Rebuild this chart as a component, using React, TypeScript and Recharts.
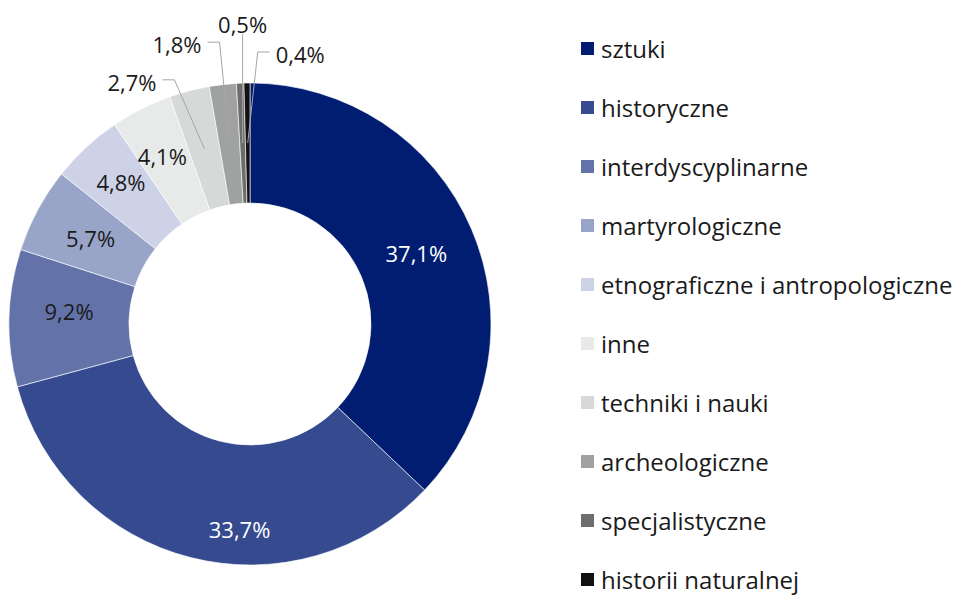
import React from 'react';
import { PieChart, Pie, Cell, Legend } from 'recharts';

const categories = [
  'sztuki',
  'historyczne',
  'interdyscyplinarne',
  'martyrologiczne',
  'etnograficzne i antropologiczne',
  'inne',
  'techniki i nauki',
  'archeologiczne',
  'specjalistyczne',
  'historii naturalnej',
];

const shares = [37.1, 33.7, 9.2, 5.7, 4.8, 4.1, 2.7, 1.8, 0.5, 0.4];

const colors = [
  '#001d72',
  '#354a8f',
  '#6373a9',
  '#99a5c8',
  '#cdd2e6',
  '#e8eaea',
  '#d7d9d9',
  '#a0a1a1',
  '#6d6d6d',
  '#111111',
];

const data = categories.map((name, i) => ({ name, value: shares[i] }));

const FONT = '"Open Sans", "Noto Sans", sans-serif';
const RAD = Math.PI / 180;

// small slices get their labels outside, with a leader line
const outsideLabels: Record<string, { dx: number; dy: number; side: 'left' | 'right' | 'up' }> = {
  'techniki i nauki': { dx: -30, dy: -69, side: 'left' },
  archeologiczne: { dx: -10, dy: -102, side: 'left' },
  specjalistyczne: { dx: 0, dy: -109, side: 'up' },
  'historii naturalnej': { dx: 10, dy: -91, side: 'right' },
};

const labelNudge: Record<string, [number, number]> = {
  historyczne: [34, 30],
  'etnograficzne i antropologiczne': [-6, -9],
  inne: [-6, -6],
  interdyscyplinarne: [0, -8],
};

const fmt = (v: number) => `${v.toFixed(1).replace('.', ',')}%`;

const renderLabel = (props: any) => {
  const { cx, cy, midAngle, innerRadius, outerRadius, name, value, index } = props;
  const r = (innerRadius + outerRadius) / 2;
  const ax = cx + r * Math.cos(-midAngle * RAD);
  const ay = cy + r * Math.sin(-midAngle * RAD);
  const out = outsideLabels[name];

  if (out) {
    const ex = ax + out.dx;
    const ey = ay + out.dy;
    if (out.side === 'up') {
      return (
        <g key={`lbl-${index}`}>
          <polyline points={`${ax},${ay} ${ex},${ey}`} stroke="#a6a6a6" strokeWidth={1} fill="none" />
          <text x={ex} y={ey - 10} textAnchor="middle" dominantBaseline="central" fill="#1a1a1a" fontSize={22} fontFamily={FONT}>
            {fmt(value)}
          </text>
        </g>
      );
    }
    const dir = out.side === 'left' ? -1 : 1;
    const hx = ex + dir * 12;
    return (
      <g key={`lbl-${index}`}>
        <polyline points={`${ax},${ay} ${ex},${ey} ${hx},${ey}`} stroke="#a6a6a6" strokeWidth={1} fill="none" />
        <text x={hx + dir * 6} y={ey + 2} textAnchor={dir < 0 ? 'end' : 'start'} dominantBaseline="central" fill="#1a1a1a" fontSize={22} fontFamily={FONT}>
          {fmt(value)}
        </text>
      </g>
    );
  }

  const [nx, ny] = labelNudge[name] || [0, 0];
  return (
    <text
      key={`lbl-${index}`}
      x={ax + nx}
      y={ay + ny}
      textAnchor="middle"
      dominantBaseline="central"
      fill={index < 2 ? '#ffffff' : '#1a1a1a'}
      fontSize={22}
      fontFamily={FONT}
    >
      {fmt(value)}
    </text>
  );
};

const renderLegend = () => (
  <div style={{ fontFamily: FONT, fontSize: 24, color: '#1a1a1a' }}>
    {categories.map((name, i) => (
      <div key={name} style={{ height: 59, display: 'flex', alignItems: 'center' }}>
        <span style={{ width: 13, height: 13, background: colors[i], marginRight: 7, display: 'inline-block', flexShrink: 0 }} />
        <span style={{ whiteSpace: 'nowrap' }}>{name}</span>
      </div>
    ))}
  </div>
);

export default function App() {
  return (
    <div style={{ position: 'absolute', left: 0, top: 0, width: 968, height: 598, background: '#fff', overflow: 'hidden' }}>
      <PieChart width={968} height={598} margin={{ top: 0, right: 0, bottom: 0, left: 0 }}>
        <Pie
          data={data}
          dataKey="value"
          nameKey="name"
          cx={250}
          cy={324}
          innerRadius={121}
          outerRadius={241}
          startAngle={90}
          endAngle={-270}
          stroke="#ffffff"
          strokeWidth={0.6}
          label={renderLabel}
          labelLine={false}
          isAnimationActive={false}
        >
          {data.map((d, i) => (
            <Cell key={`cell-${i}`} fill={colors[i]} />
          ))}
        </Pie>
        <Legend
          content={renderLegend}
          wrapperStyle={{ position: 'absolute', left: 581, top: 19, width: 385 }}
        />
      </PieChart>
    </div>
  );
}
